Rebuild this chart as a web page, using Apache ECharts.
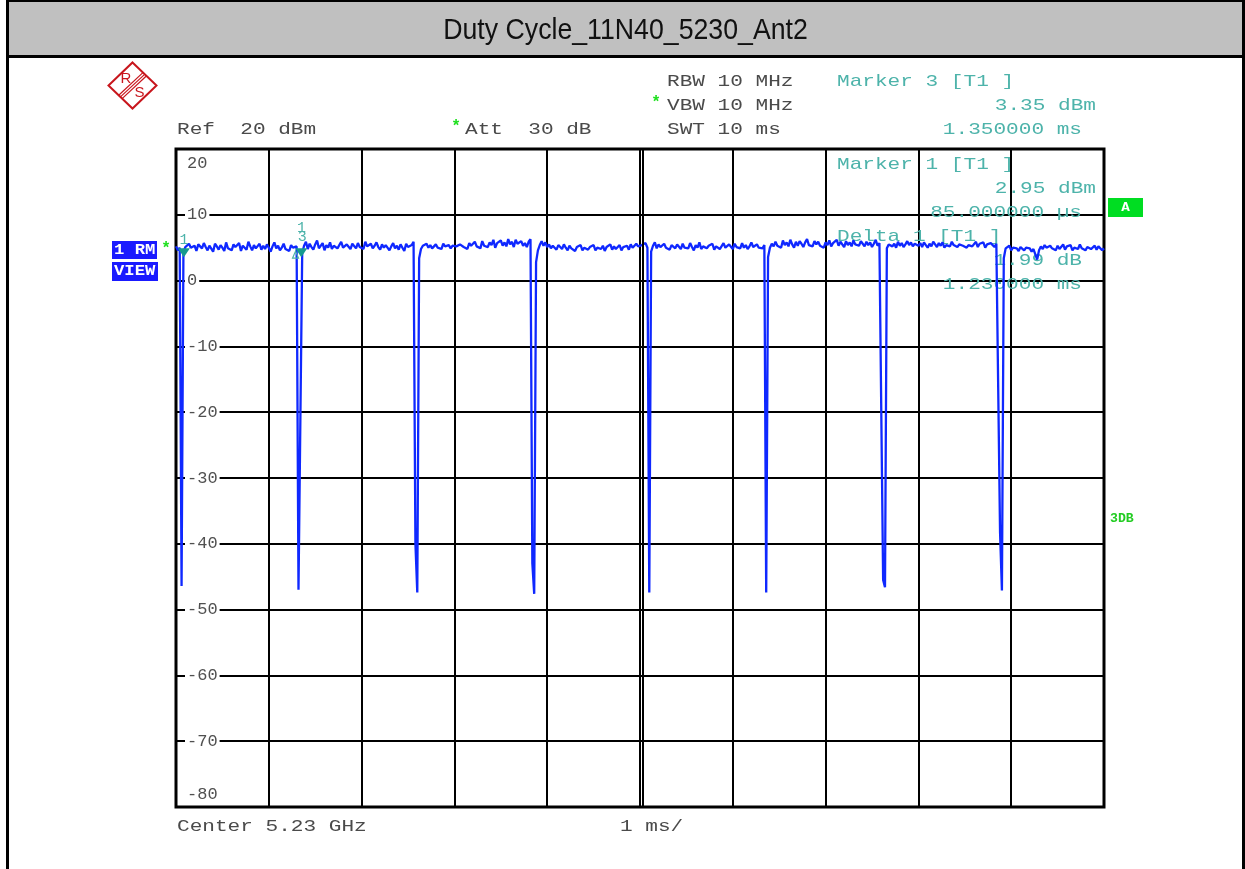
<!DOCTYPE html>
<html><head><meta charset="utf-8">
<script src="https://cdn.jsdelivr.net/npm/echarts@6/dist/echarts.min.js"></script>
<style>html,body{margin:0;padding:0;background:#fff;overflow:hidden}#c{width:1245px;height:869px}</style>
</head><body><div id="c"></div>
<script>
// ---------- data ----------
const chartTitle = 'Duty Cycle_11N40_5230_Ant2';
const sweepMs = 10;
const xMin = 0, xMax = 10, xStep = 1;
const yMin = -80, yMax = 20, yStep = 10;
const traceDbm = [
 5.2,4.6,5.0,-46.4,4.3,5.1,4.8,5.6,5.0,4.9,5.3,4.5,5.5,5.2,4.9,5.7,5.1,4.6,5.3,5.0,4.4,5.6,5.2,4.7,5.4,
 5.0,4.5,5.8,4.9,5.2,4.6,5.5,5.1,4.8,5.7,4.5,5.3,5.0,4.7,5.9,5.2,4.6,5.4,4.9,5.1,5.6,4.7,5.3,4.8,5.5,
 5.0,4.4,5.2,5.8,4.9,5.3,4.6,5.0,5.6,4.8,5.1,4.5,5.4,5.0,4.7,5.2,-47.0,-47.1,4.2,5.3,5.9,4.8,5.6,5.1,4.7,
 5.5,6.1,4.9,5.2,5.7,4.6,5.4,5.0,5.8,4.8,5.3,5.6,4.9,5.1,5.9,5.0,4.7,5.5,5.2,4.8,5.6,5.3,4.9,5.7,5.1,
 5.4,4.8,5.9,5.2,5.0,5.6,4.9,5.3,5.8,5.1,4.7,5.5,5.0,5.4,5.1,4.6,5.2,5.7,4.9,5.3,4.7,5.5,5.0,4.5,5.6,
 5.1,4.8,5.4,5.9,-40.0,-47.4,3.4,4.8,5.3,5.1,5.6,5.0,5.4,4.9,5.2,5.5,5.0,5.3,4.8,5.6,5.2,5.1,5.4,4.9,5.3,
 5.6,5.2,4.9,5.5,5.8,5.1,5.4,4.8,5.7,5.3,5.0,5.9,5.2,5.5,4.9,6.0,5.3,5.6,5.1,5.8,5.4,6.2,5.0,5.7,5.5,
 6.1,5.3,5.8,5.2,6.3,5.5,5.9,5.1,6.2,5.6,5.4,6.0,5.3,5.7,5.1,5.9,6.3,-43.0,-47.6,2.8,4.6,5.4,6.0,5.3,5.8,
 5.1,5.5,4.9,5.3,5.0,4.7,5.4,5.2,4.8,5.5,5.0,4.6,5.3,4.9,5.2,4.5,5.1,4.8,5.4,4.6,5.0,5.3,4.7,5.1,4.9,
 5.4,4.6,5.0,5.2,4.8,5.3,4.5,5.1,4.9,5.5,4.7,5.2,4.8,5.0,5.4,4.6,5.1,4.9,5.3,4.7,5.5,5.0,4.8,5.6,5.2,
 4.9,5.4,5.1,5.7,5.0,-47.4,4.4,5.3,5.8,4.9,5.5,5.1,4.8,5.6,5.0,5.3,4.7,5.4,5.1,4.9,5.5,5.2,4.8,5.6,5.0,
 5.3,4.9,5.7,5.1,4.6,5.4,5.0,5.8,4.8,5.2,5.5,4.9,5.3,5.0,5.6,4.7,5.2,5.4,4.8,5.1,5.7,5.0,4.9,5.5,5.2,
 4.8,5.6,5.1,5.3,4.9,5.7,5.0,5.4,4.8,5.2,5.8,5.1,4.9,5.5,5.0,5.3,4.9,5.4,-47.4,3.6,5.0,5.6,5.2,5.9,5.3,
 5.6,5.0,6.1,5.4,5.8,5.2,6.2,5.5,5.0,5.9,5.3,6.0,5.6,5.1,5.8,6.3,5.4,5.7,5.2,6.0,5.5,5.9,5.3,5.6,5.0,
 5.8,5.4,6.1,5.2,5.7,5.5,6.2,5.3,5.9,5.6,5.1,6.0,5.4,5.8,5.2,6.1,5.5,5.7,5.3,6.0,5.6,5.2,5.9,5.4,5.8,
 5.1,5.6,6.2,5.3,5.7,5.9,-45.5,-46.6,4.9,5.5,5.8,5.2,5.6,5.0,5.9,5.3,5.7,5.1,5.5,6.0,5.4,5.8,5.2,5.6,5.9,
 5.3,5.7,5.1,5.8,5.4,5.0,5.6,5.2,5.9,5.5,5.1,5.7,5.3,5.8,5.0,5.4,5.6,5.2,5.9,5.4,5.7,5.1,5.5,5.8,5.3,
 5.6,5.0,5.4,5.7,5.2,5.5,5.9,5.1,5.6,5.3,5.8,5.0,5.5,5.2,5.7,5.4,5.1,5.6,5.3,-38.3,-47.1,3.4,4.9,4.6,5.3,
 4.6,5.0,4.7,4.9,4.5,5.1,4.8,4.6,5.0,4.7,4.9,4.4,4.8,4.5,3.2,4.6,5.2,4.8,5.4,5.0,4.7,5.3,4.9,5.2,4.6,
 5.3,4.8,5.1,5.5,4.7,5.2,4.9,5.4,4.6,5.0,5.3,4.8,5.5,4.9,5.2,4.6,5.1,5.4,4.8,5.0,5.3,4.7,5.2,4.9,4.6,
 4.9
];
const markerTimesMs = [0.085, 1.315, 1.35];
const markerLevelsDbm = [5.0, 5.0, 5.0];
const markerLabels = ['1', '1', '3'];
const settingsLines = ['RBW 10 MHz', 'VBW 10 MHz', 'SWT 10 ms'];
const refText = 'Ref  20 dBm';
const attText = 'Att  30 dB';
const marker3Lines = ['Marker 3 [T1 ]', '3.35 dBm', '1.350000 ms'];
const marker1Lines = ['Marker 1 [T1 ]', '2.95 dBm', '85.000000 µs'];
const deltaLines = ['Delta 1 [T1 ]', '1.99 dB', '1.230000 ms'];
const footerLeft = 'Center 5.23 GHz';
const footerMid = '1 ms/';

// ---------- styling ----------
const MONO = '"Liberation Mono","DejaVu Sans Mono",monospace';
const TXT = '#4a4a4a';
const TEAL = '#4db3aa';
const TEAL_D = '#169a8f';
const GREEN = '#1ee01e';
const BLUE = '#0f28ff';
const SX = 1.24;

function txt(x, y, text, o) {
  o = o || {};
  const al = o.align || 'left';
  return { type: 'text', x: x, y: y, scaleX: o.sx == null ? SX : o.sx, z: o.z == null ? 10 : o.z, silent: true,
    style: { text: text, fill: o.color || TXT, fontFamily: o.family || MONO, fontSize: o.size || 17,
      fontWeight: o.weight || 'normal', textAlign: al, align: al, textVerticalAlign: 'middle', verticalAlign: 'middle' } };
}
function rect(x, y, w, h, fill, z) {
  return { type: 'rect', shape: { x: x, y: y, width: w, height: h }, style: { fill: fill }, z: z == null ? 0 : z, silent: true };
}
function line(x1, y1, x2, y2, color, w) {
  return { type: 'line', shape: { x1: x1, y1: y1, x2: x2, y2: y2 }, style: { stroke: color, lineWidth: w }, z: 10, silent: true };
}

const RED = '#c8161d';
const lx = 132.5, ly = 85.5;
const gfx = [
  rect(6, 0, 1239, 58, '#000'),
  rect(9, 2, 1233, 53, '#c0c0c0'),
  rect(6, 58, 3, 811, '#000'),
  rect(1242, 0, 3, 869, '#000'),
  txt(625.5, 31, chartTitle, { family: '"Liberation Sans",Arial,sans-serif', size: 30, sx: 0.89, color: '#111', align: 'center' }),
  // R&S logo
  { type: 'polygon', shape: { points: [[lx, 62.5], [lx + 24, ly], [lx, 108.5], [lx - 24, ly]] }, style: { fill: 'none', stroke: RED, lineWidth: 2 }, z: 10, silent: true },
  line(118.7, 95.2, 143.2, 72.4, RED, 1.2),
  line(120.4, 96.9, 144.9, 74.1, RED, 1.2),
  line(122.1, 98.6, 146.6, 75.8, RED, 1.2),
  txt(126, 79, 'R', { family: '"Liberation Sans",Arial,sans-serif', size: 15, sx: 1, color: RED, align: 'center' }),
  txt(139.5, 93, 'S', { family: '"Liberation Sans",Arial,sans-serif', size: 15, sx: 1, color: RED, align: 'center' }),
  // header
  txt(667, 81, settingsLines[0]),
  txt(667, 105, settingsLines[1]),
  txt(667, 129, settingsLines[2]),
  txt(656, 103, '*', { color: GREEN, weight: 'bold', sx: 1, align: 'center', size: 16 }),
  txt(177, 129, refText),
  txt(456, 127, '*', { color: GREEN, weight: 'bold', sx: 1, align: 'center', size: 16 }),
  txt(465, 129, attText),
  txt(837, 81, marker3Lines[0], { color: TEAL }),
  txt(1096, 105, marker3Lines[1], { color: TEAL, align: 'right' }),
  txt(1082, 129, marker3Lines[2], { color: TEAL, align: 'right' }),
  // in-plot marker info
  txt(837, 164, marker1Lines[0], { color: TEAL, z: 1 }),
  txt(1096, 188, marker1Lines[1], { color: TEAL, align: 'right', z: 1 }),
  txt(1082, 212, marker1Lines[2], { color: TEAL, align: 'right', z: 1 }),
  txt(837, 236, deltaLines[0], { color: TEAL, z: 1 }),
  txt(1082, 260, deltaLines[1], { color: TEAL, align: 'right', z: 1 }),
  txt(1082, 284, deltaLines[2], { color: TEAL, align: 'right', z: 1 }),
  // trace tags
  rect(112, 241, 45, 18, '#1a1aff', 5),
  rect(112, 262, 46, 19, '#1a1aff', 5),
  txt(114, 250.5, '1 RM', { color: '#fff', weight: 'bold', size: 15, sx: 1.15 }),
  txt(114, 271.5, 'VIEW', { color: '#fff', weight: 'bold', size: 15, sx: 1.15 }),
  txt(166, 249, '*', { color: GREEN, weight: 'bold', sx: 1, align: 'center', size: 16 }),
  rect(1108, 198, 35, 19, '#00dd22', 5),
  txt(1125.5, 207.5, 'A', { color: '#fff', weight: 'bold', size: 13, sx: 1.1, align: 'center' }),
  txt(1110, 518.5, '3DB', { color: '#22cc22', weight: 'bold', size: 12, sx: 1.1 }),
  // footer
  txt(177, 826, footerLeft),
  txt(620, 826, footerMid)
];

const markerSym = [
  { symbol: 'path://M0,0L12,0L6,9Z', symbolSize: [12, 9], symbolOffset: [0, 5], itemStyle: { color: TEAL_D },
    label: { distance: 1, offset: [0, 0] } },
  { symbol: 'path://M5,0L10,9L0,9Z', symbolSize: [6, 7], symbolOffset: [-2.5, 7], itemStyle: { color: 'rgba(0,0,0,0)', borderColor: TEAL, borderWidth: 1.2 },
    label: { distance: 15, offset: [6, 0] } },
  { symbol: 'path://M0,0L12,0L6,9Z', symbolSize: [12, 9], symbolOffset: [0, 5], itemStyle: { color: TEAL_D },
    label: { distance: 4, offset: [1, 0] } }
];

const yLab = { fontFamily: MONO, fontSize: 17, color: '#505050' };
const option = {
  animation: false,
  backgroundColor: '#fff',
  grid: { left: 176, top: 149, width: 928, height: 658, show: true, borderColor: '#000', borderWidth: 3, backgroundColor: 'transparent' },
  xAxis: { type: 'value', min: xMin, max: xMax, interval: xStep,
    axisLabel: { show: false }, axisTick: { show: false }, axisLine: { show: false },
    splitLine: { show: true, lineStyle: { color: '#000', width: 2 } } },
  yAxis: { type: 'value', min: yMin, max: yMax, interval: yStep,
    axisTick: { show: false }, axisLine: { show: false },
    splitLine: { show: true, lineStyle: { color: '#000', width: 2 } },
    axisLabel: { inside: true, margin: 9, fontFamily: MONO, fontSize: 17, color: '#505050',
      formatter: function (v) { return v === yMax ? '{t|' + v + '}' : (v === yMin ? '{b|' + v + '}' : '{n|' + v + '}'); },
      rich: {
        n: Object.assign({ backgroundColor: '#fff', padding: [1, 2, 1, 2] }, yLab),
        t: Object.assign({ padding: [28, 2, 0, 2] }, yLab),
        b: Object.assign({ padding: [0, 2, 26, 2] }, yLab)
      } } },
  graphic: { elements: gfx },
  series: [{
    type: 'line', z: 3, symbol: 'none', showSymbol: false, animation: false,
    lineStyle: { color: BLUE, width: 2.3 },
    data: traceDbm.map(function (v, i) { return [i * sweepMs / (traceDbm.length - 1), v]; }),
    markLine: { silent: true, symbol: 'none', animation: false, label: { show: false },
      lineStyle: { color: '#000', width: 2, type: 'solid' }, data: [{ xAxis: 5.03 }] },
    markPoint: { animation: false, silent: true,
      data: markerTimesMs.map(function (t, k) {
        const s = markerSym[k];
        return { coord: [t, markerLevelsDbm[k]], symbol: s.symbol, symbolSize: s.symbolSize, symbolOffset: s.symbolOffset,
          itemStyle: s.itemStyle,
          label: Object.assign({ show: true, formatter: markerLabels[k], position: 'top', color: TEAL, fontFamily: MONO, fontSize: 15 }, s.label) };
      }) }
  }]
};
const chart = echarts.init(document.getElementById('c'), null, { renderer: 'canvas' });
chart.setOption(option);
</script>
</body></html>
